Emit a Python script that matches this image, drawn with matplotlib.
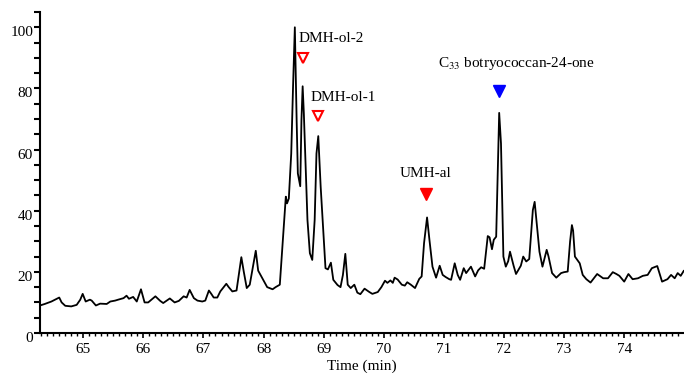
import numpy as np
import matplotlib
matplotlib.use('Agg')
import matplotlib.pyplot as plt
import matplotlib.transforms as mtransforms
from matplotlib.ticker import MultipleLocator

# retention time (min) and relative abundance
time = [64.28, 64.36, 64.47, 64.53, 64.60, 64.64, 64.70, 64.80, 64.89, 64.95,
        64.99, 65.04, 65.11, 65.14, 65.21, 65.28, 65.39, 65.45, 65.53, 65.58,
        65.67, 65.72, 65.76, 65.83, 65.89, 65.96, 66.02, 66.08, 66.20, 66.28,
        66.33, 66.44, 66.52, 66.59, 66.67, 66.72, 66.77, 66.84, 66.90, 66.98,
        67.03, 67.09, 67.13, 67.17, 67.23, 67.28, 67.38, 67.42, 67.48, 67.55,
        67.63, 67.67, 67.72, 67.77, 67.87, 67.91, 68.01, 68.06, 68.15, 68.20,
        68.27, 68.31, 68.37, 68.39, 68.42, 68.46, 68.49, 68.52, 68.55, 68.57,
        68.61, 68.63, 68.65, 68.67, 68.73, 68.77, 68.81, 68.85, 68.88, 68.91,
        68.95, 69.00, 69.03, 69.07, 69.12, 69.16, 69.23, 69.28, 69.32, 69.36,
        69.40, 69.45, 69.51, 69.56, 69.61, 69.68, 69.76, 69.81, 69.90, 69.96,
        70.02, 70.06, 70.11, 70.15, 70.18, 70.23, 70.30, 70.35, 70.39, 70.45,
        70.52, 70.59, 70.63, 70.67, 70.72, 70.76, 70.81, 70.87, 70.93, 70.98,
        71.03, 71.09, 71.12, 71.18, 71.23, 71.27, 71.33, 71.37, 71.45, 71.52,
        71.57, 71.62, 71.67, 71.73, 71.76, 71.80, 71.83, 71.87, 71.92, 71.95,
        71.99, 72.03, 72.07, 72.10, 72.16, 72.20, 72.28, 72.32, 72.37, 72.42,
        72.48, 72.51, 72.55, 72.59, 72.64, 72.71, 72.74, 72.80, 72.87, 72.95,
        73.00, 73.06, 73.10, 73.13, 73.15, 73.18, 73.26, 73.31, 73.37, 73.44,
        73.55, 73.65, 73.73, 73.81, 73.87, 73.92, 74.00, 74.07, 74.14, 74.23,
        74.31, 74.39, 74.46, 74.55, 74.63, 74.72, 74.78, 74.84, 74.89, 74.94,
        74.99]
abund = [9.0, 9.5, 10.3, 10.9, 11.6, 10.0, 8.9, 8.7, 9.2, 10.9,
         12.8, 10.3, 10.9, 10.6, 9.0, 9.6, 9.5, 10.3, 10.6, 10.9,
         11.4, 12.2, 11.2, 11.8, 10.3, 14.3, 10.0, 10.0, 12.0, 10.5,
         9.8, 11.3, 10.0, 10.5, 12.0, 11.6, 14.1, 11.4, 10.6, 10.3,
         10.6, 13.9, 12.8, 11.6, 11.6, 13.6, 16.1, 15.0, 13.6, 13.9,
         24.8, 20.1, 14.7, 15.8, 26.9, 20.4, 16.8, 15.0, 14.3, 15.0,
         15.8, 27.2, 44.6, 42.4, 44.0, 58.7, 80.4, 100.0, 69.6, 52.2,
         48.0, 69.6, 80.7, 71.8, 37.0, 26.1, 23.9, 37.0, 58.7, 64.4,
         47.8, 31.5, 21.2, 20.8, 23.0, 17.4, 15.7, 15.0, 19.0, 25.9,
         15.8, 14.7, 15.8, 13.2, 12.7, 14.5, 13.4, 12.8, 13.4, 15.0,
         17.1, 16.4, 17.2, 16.4, 18.1, 17.5, 15.8, 15.5, 16.6, 15.8,
         14.7, 17.7, 18.5, 29.4, 37.8, 30.4, 21.7, 18.1, 22.0, 19.0,
         18.3, 17.6, 17.4, 22.8, 19.0, 17.4, 21.2, 19.6, 21.7, 18.5,
         20.5, 21.5, 21.0, 31.7, 31.3, 27.4, 30.5, 31.5, 72.0, 62.0,
         25.0, 21.7, 23.5, 26.6, 22.0, 19.3, 22.0, 25.0, 23.4, 24.2,
         40.2, 42.9, 34.8, 26.6, 21.7, 27.2, 25.1, 19.6, 18.1, 19.6,
         19.9, 20.1, 30.0, 35.3, 33.5, 25.0, 22.8, 19.0, 17.6, 16.5,
         19.3, 17.9, 17.9, 19.9, 19.3, 18.7, 16.8, 19.3, 17.6, 17.9,
         18.7, 19.0, 21.2, 21.9, 16.8, 17.6, 19.0, 17.9, 19.6, 18.7,
         20.3]

# compound labels and marker positions
labels = ['DMH-ol-2', 'DMH-ol-1', 'UMH-al', r'C$_{33}$ botryococcan-24-one']
mark_t = [68.65, 68.90, 70.70, 71.92]
mark_y = [89.8, 70.9, 45.4, 79.0]
label_t = [68.58, 68.78, 70.70, 70.90]
label_y = [96.3, 77.1, 52.3, 88.2]

plt.rcParams['font.family'] = ['Liberation Serif', 'DejaVu Serif']
plt.rcParams['mathtext.fontset'] = 'stix'

fig = plt.figure(figsize=(6.84, 3.73), dpi=100)
ax = fig.add_axes([40/684, 40/373, 644/684, 321/373])

ax.plot(time, abund, color='black', lw=1.3)

# open and filled triangles
ax.plot(mark_t[0], mark_y[0], marker='v', ms=7, mfc='white', mec='red', mew=1.5, ls='none')
ax.plot(mark_t[1], mark_y[1], marker='v', ms=7, mfc='white', mec='red', mew=1.5, ls='none')
ax.plot(mark_t[2], mark_y[2], marker='v', ms=8, color='red', ls='none')
ax.plot(mark_t[3], mark_y[3], marker='v', ms=8, color='blue', ls='none')

ax.text(label_t[0], label_y[0], labels[0], fontsize=11, ha='left', va='center')
ax.text(label_t[1], label_y[1], labels[1], fontsize=11, ha='left', va='center')
ax.text(label_t[2], label_y[2], labels[2], fontsize=11, ha='center', va='center')
ax.text(label_t[3], label_y[3], labels[3], fontsize=11, ha='left', va='center')

ax.set_xlim(64.28, 74.995)
ax.set_ylim(0, 105)
ax.spines['top'].set_visible(False)
ax.spines['right'].set_visible(False)
ax.spines['left'].set_linewidth(1.5)
ax.spines['bottom'].set_linewidth(1.5)

ax.xaxis.set_major_locator(MultipleLocator(1))
ax.xaxis.set_minor_locator(MultipleLocator(0.1))
ax.yaxis.set_major_locator(MultipleLocator(20))
ax.yaxis.set_minor_locator(MultipleLocator(5))
ax.tick_params(axis='x', which='major', length=3.5, width=1.2, labelsize=11, pad=4)
ax.tick_params(axis='x', which='minor', length=2, width=1)
ax.tick_params(axis='y', which='both', length=4, width=1.5, labelsize=11, pad=1)
ax.set_xlabel('Time (min)', fontsize=11, labelpad=2)

# y labels sit a little below their ticks in the original
shift = mtransforms.ScaledTranslation(0, -4/100, fig.dpi_scale_trans)
for lab in ax.get_yticklabels():
    lab.set_transform(lab.get_transform() + shift)

fig.savefig('out.png', dpi=100)
